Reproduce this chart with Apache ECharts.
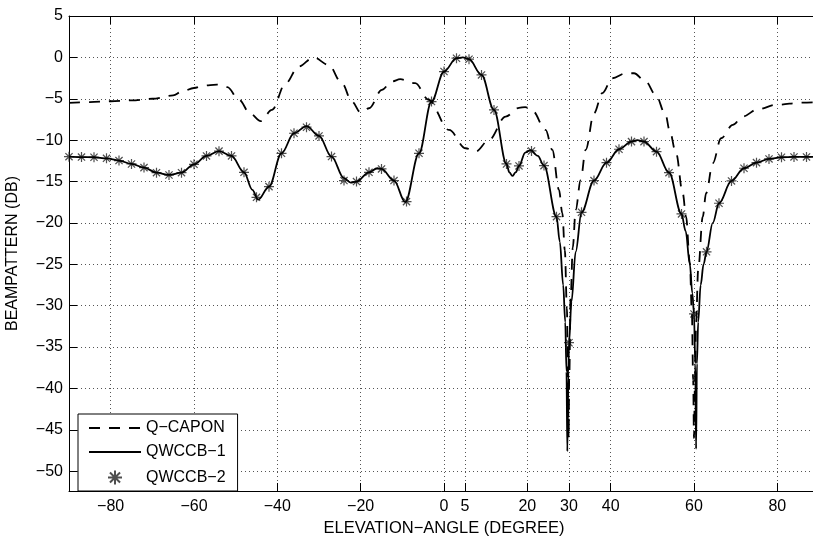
<!DOCTYPE html>
<html>
<head>
<meta charset="utf-8">
<script src="https://cdn.jsdelivr.net/npm/echarts@6/dist/echarts.min.js"></script>
<style>
  html, body { margin: 0; padding: 0; background: #fff; }
  #chart { width: 813px; height: 542px; }
</style>
</head>
<body>
<div id="chart"></div>
<script>
// tick positions
const xTicks = [-80, -60, -40, -20, 0, 5, 20, 30, 40, 60, 80];
const yTicks = [-50, -45, -40, -35, -30, -25, -20, -15, -10, -5, 0, 5];

// Q-CAPON (dashed)
const caponAngle = [-90, -85, -80, -75, -70, -65, -62.9, -60, -57.7, -54.5, -52, -49.2, -46.5, -44, -41.3, -38, -34.9, -31.3, -27.7, -24.5, -22.1, -20, -18, -14.9, -12.5, -10.5, -6.9, -3.7, 1.2, 5.2, 7.6, 10.8, 14.8, 18, 19.5, 21.2, 24.4, 26, 27.6, 28.4, 29, 29.5, 29.75, 29.9, 30.05, 30.4, 30.9, 31.6, 32.8, 34, 36, 38, 40.4, 43.6, 45.6, 48.4, 50.8, 53.2, 54.1, 55.7, 57.3, 58.1, 59, 59.5, 59.8, 60, 60.2, 60.5, 61, 62.1, 62.9, 64.5, 66.5, 69.3, 71.7, 75.3, 79.7, 86.1, 90];
const caponDb = [-5.5, -5.4, -5.3, -5.2, -5.0, -4.6, -4.13, -3.7, -3.41, -3.3, -3.6, -5.14, -6.8, -7.7, -6.35, -3.12, -1.11, 0.0, -0.9, -3.12, -5.34, -6.67, -6.15, -3.93, -2.9, -2.64, -3.12, -5.14, -8.77, -10.98, -11.39, -9.98, -7.15, -6.1, -6.0, -6.43, -8.77, -11.18, -16.02, -18.84, -23.3, -30.3, -39, -46, -39, -29, -23, -18.44, -14.81, -11.18, -6.75, -4.33, -2.52, -1.92, -1.92, -2.92, -4.53, -6.95, -8.77, -11.59, -16.42, -19.25, -24.8, -31, -39, -46, -40, -32, -25.7, -19.25, -16.42, -12.8, -9.77, -8.16, -7.15, -6.27, -5.74, -5.46, -5.4];

// QWCCB-1 (solid)
const wccb1Angle = [-90, -87, -84, -81, -78, -75, -72, -69, -66, -63, -60, -57, -54, -51, -48, -46, -44.6, -42, -39, -36, -33, -30, -27, -24, -22.4, -21, -18, -16, -15, -12, -9.3, -6, -3, 0, 3, 4.5, 6, 9, 12, 15, 15.7, 16.4, 17.2, 18, 19.5, 20.8, 22.5, 24, 27, 27.8, 28.6, 29.1, 29.4, 29.6, 29.85, 30, 30.6, 31.6, 33, 36, 39, 42, 45, 46.4, 48, 51, 54, 57, 58, 59, 59.6, 60, 60.3, 60.5, 60.7, 61, 61.6, 62.3, 63, 64.5, 66, 69, 72, 75, 78, 81, 84, 87, 90];
const wccb1Db = [-12.0, -12.05, -12.07, -12.2, -12.47, -12.88, -13.32, -13.93, -14.21, -13.93, -12.92, -11.91, -11.33, -11.91, -13.89, -16.0, -17.2, -15.62, -11.59, -9.17, -8.3, -9.49, -11.99, -14.6, -15.13, -15.01, -13.89, -13.4, -13.48, -14.89, -17.5, -11.59, -5.34, -1.71, -0.10, 0.0, -0.22, -2.12, -6.35, -12.88, -13.9, -14.33, -13.9, -13.12, -11.5, -11.2, -11.9, -13.08, -19.25, -22.3, -27.5, -32, -38, -47.6, -38, -34.5, -29.5, -23.5, -18.72, -14.89, -12.72, -11.10, -10.18, -10.0, -10.18, -11.39, -13.93, -18.92, -21, -25, -28.5, -31, -37, -47.3, -37, -32, -27.5, -25, -23.5, -20, -17.63, -14.93, -13.4, -12.72, -12.27, -12.07, -12.03, -12.03, -12.0];

// QWCCB-2 (stars)
const wccb2Angle = [-90, -87, -84, -81, -78, -75, -72, -69, -66, -63, -60, -57, -54, -51, -48, -45, -42, -39, -36, -33, -30, -27, -24, -21, -18, -15, -12, -9, -6, -3, 0, 3, 6, 9, 12, 15, 18, 21, 24, 27, 30, 33, 36, 39, 42, 45, 48, 51, 54, 57, 60, 63, 66, 69, 72, 75, 78, 81, 84, 87, 90];
const wccb2Db = [-12.0, -12.05, -12.07, -12.2, -12.47, -12.88, -13.32, -13.93, -14.21, -13.93, -12.92, -11.91, -11.33, -11.91, -13.89, -16.91, -15.62, -11.59, -9.17, -8.44, -9.49, -11.99, -14.89, -15.01, -13.89, -13.48, -14.89, -17.43, -11.59, -5.34, -1.71, -0.10, -0.22, -2.12, -6.35, -12.88, -13.12, -11.31, -13.08, -19.25, -34.48, -18.72, -14.89, -12.72, -11.10, -10.18, -10.18, -11.39, -13.93, -18.92, -31, -23.5, -17.63, -14.93, -13.4, -12.72, -12.27, -12.07, -12.03, -12.03, -12.0];

const pairs = (xs, ys) => xs.map((x, i) => [x, ys[i]]);
const minus = v => String(v).replace('-', '\u2212');
const font = 'Liberation Sans, Helvetica, Arial, sans-serif';
const star = 'path://M0,-5L0,5M-5,0L5,0M-3.6,-3.6L3.6,3.6M-3.6,3.6L3.6,-3.6';

const chart = echarts.init(document.getElementById('chart'));
const option = {
    animation: false,
    backgroundColor: '#fff',
    textStyle: { fontFamily: font, color: '#000' },
    grid: { left: 69, top: 16, right: -6, bottom: 51, containLabel: false, outerBoundsMode: 'none' },
    legend: {
        left: 78,
        top: 414,
        orient: 'vertical',
        padding: [6, 12, 4, 10],
        itemWidth: 52,
        itemHeight: 14,
        itemGap: 8,
        backgroundColor: '#fff',
        borderColor: '#000',
        borderWidth: 1,
        borderRadius: 0,
        textStyle: { fontSize: 16, fontFamily: font, color: '#000' },
        data: [
            { name: 'Q\u2212CAPON', itemStyle: { opacity: 0 } },
            { name: 'QWCCB\u22121', itemStyle: { opacity: 0 } },
            'QWCCB\u22122'
        ]
    },
    xAxis: [
        {
            type: 'value',
            min: -90,
            max: 90,
            name: 'ELEVATION\u2212ANGLE (DEGREE)',
            nameLocation: 'middle',
            nameGap: 28,
            nameTextStyle: { fontSize: 16.5, color: '#000' },
            axisLine: { onZero: false, lineStyle: { color: '#000', width: 1 } },
            axisTick: { inside: true, length: 8, customValues: xTicks, lineStyle: { color: '#000' } },
            axisLabel: { customValues: xTicks, fontSize: 16, color: '#000', margin: 8, formatter: minus },
            splitLine: { show: true, lineStyle: { color: '#555', type: [1, 3], width: 1 } }
        },
        {
            type: 'value',
            position: 'top',
            min: -90,
            max: 90,
            axisLine: { onZero: false, lineStyle: { color: '#000', width: 1 } },
            axisTick: { inside: true, length: 8, customValues: xTicks, lineStyle: { color: '#000' } },
            axisLabel: { show: false },
            splitLine: { show: false }
        }
    ],
    yAxis: {
        type: 'value',
        min: -52.4,
        max: 5,
        name: 'BEAMPATTERN (DB)',
        nameLocation: 'middle',
        nameGap: 48,
        nameTextStyle: { fontSize: 16, color: '#000' },
        axisLine: { show: true, onZero: false, lineStyle: { color: '#000', width: 1 } },
        axisTick: { show: true, inside: true, length: 8, customValues: yTicks, lineStyle: { color: '#000' } },
        axisLabel: { customValues: yTicks, fontSize: 16, color: '#000', margin: 6, formatter: minus },
        splitLine: { show: true, lineStyle: { color: '#555', type: [1, 3], width: 1 } }
    },
    series: [
        {
            name: 'Q\u2212CAPON',
            type: 'line',
            data: pairs(caponAngle, caponDb),
            symbol: 'none',
            smooth: 0.35,
            smoothMonotone: 'x',
            itemStyle: { color: '#000' },
            lineStyle: { color: '#000', width: 1.8, type: [11, 9] }
        },
        {
            name: 'QWCCB\u22121',
            type: 'line',
            data: pairs(wccb1Angle, wccb1Db),
            symbol: 'none',
            smooth: 0.35,
            smoothMonotone: 'x',
            itemStyle: { color: '#000' },
            lineStyle: { color: '#000', width: 1.8 }
        },
        {
            name: 'QWCCB\u22122',
            type: 'scatter',
            data: pairs(wccb2Angle, wccb2Db),
            symbol: star,
            symbolSize: 10,
            itemStyle: { color: 'none', borderColor: '#222', borderWidth: 1.2 }
        }
    ]
};
chart.setOption(option);
</script>
</body>
</html>
